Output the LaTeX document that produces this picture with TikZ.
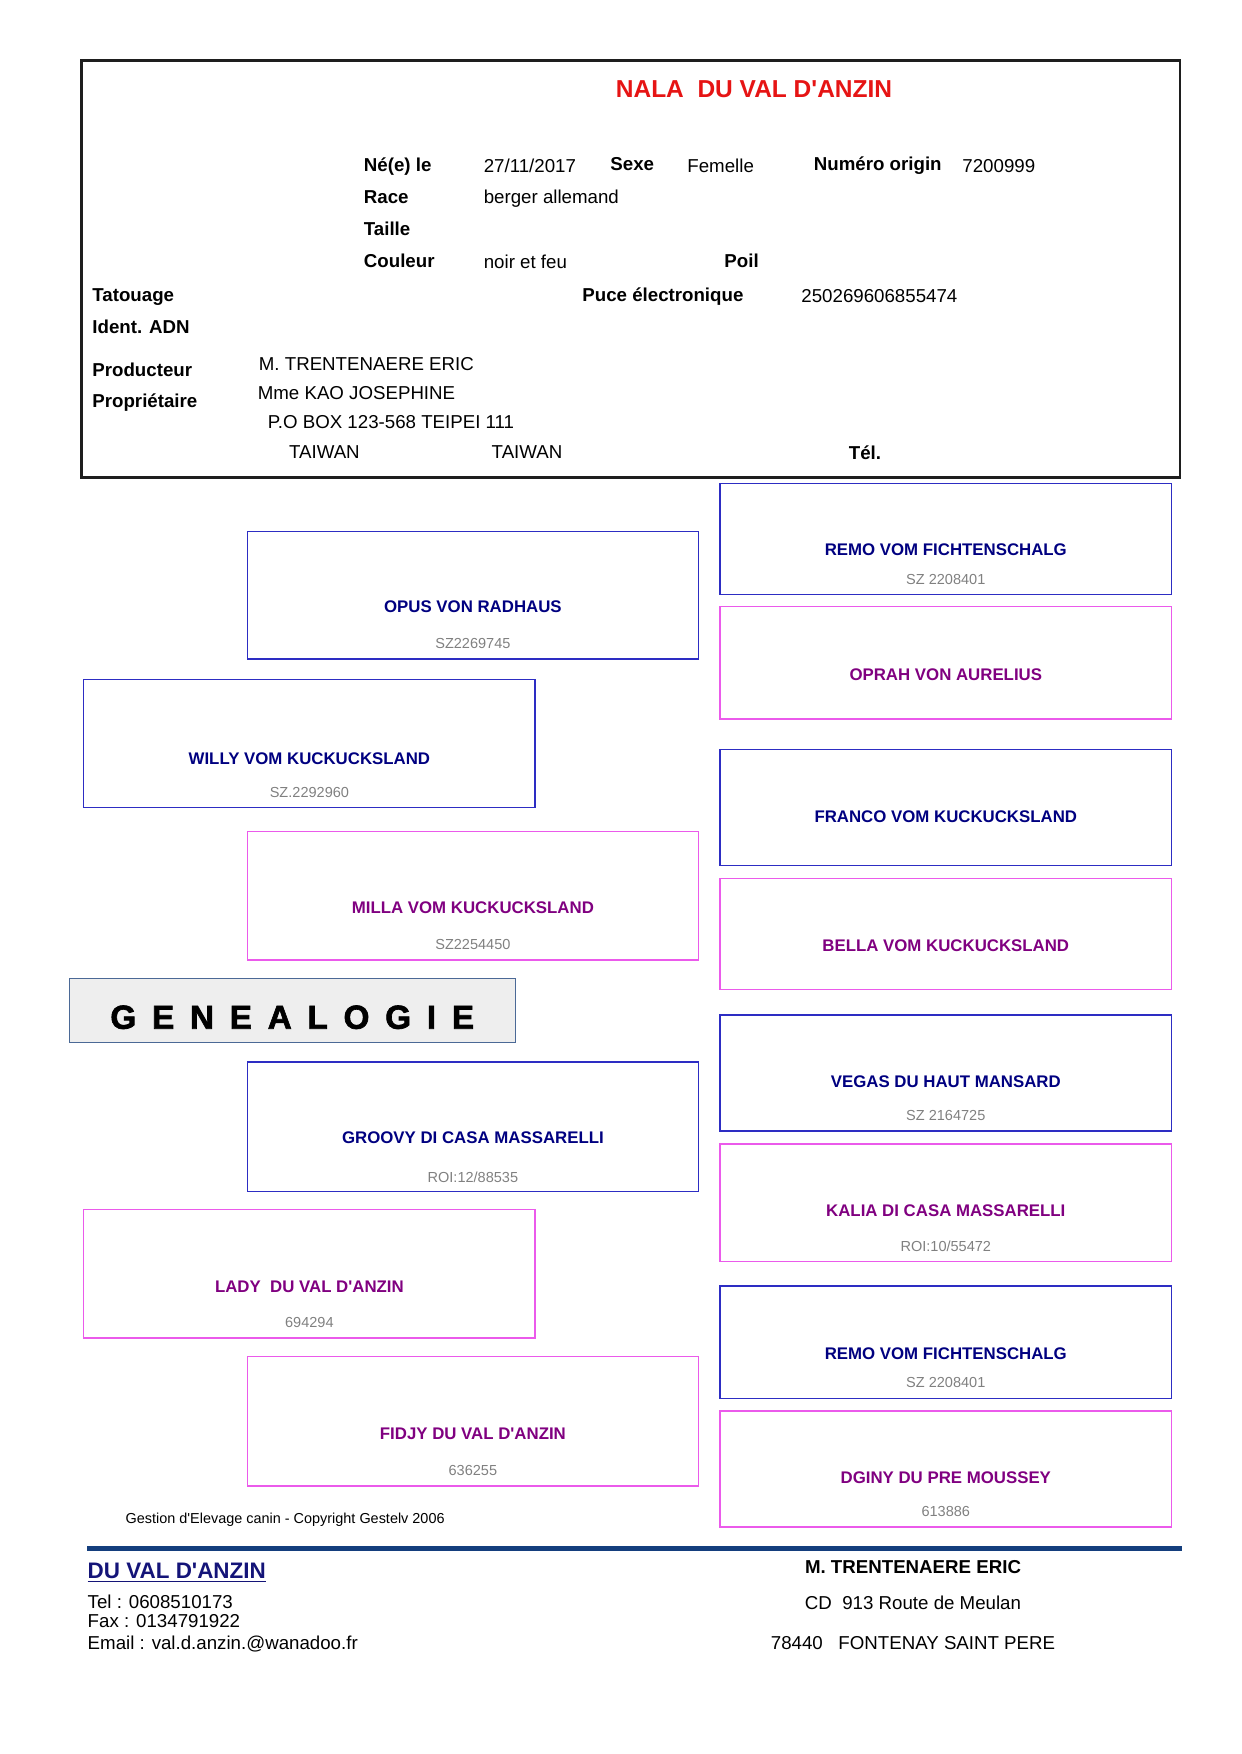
\documentclass[tikz,border=0pt]{standalone}
\usepackage{fontspec}
\setmainfont{Liberation Sans}
\newfontfamily\blackfont{Liberation Sans}[FakeBold=2]
\usetikzlibrary{fit}
\definecolor{maleline}{RGB}{45,45,195}
\definecolor{femline}{RGB}{235,90,235}
\definecolor{navyname}{RGB}{0,0,128}
\definecolor{purplename}{RGB}{128,0,128}
\definecolor{reggray}{RGB}{128,128,128}
\definecolor{titlered}{RGB}{230,20,20}
\definecolor{frameblack}{RGB}{30,30,30}
\definecolor{genline}{RGB}{75,105,150}
\definecolor{genfill}{RGB}{238,238,238}
\definecolor{footblue}{RGB}{20,62,125}
\definecolor{footnavy}{RGB}{20,20,120}
\newcommand\gsp{\hspace{7.6pt}}
\tikzset{
  pbox/.style={draw, line width=0.7pt, inner sep=0pt},
  malebox/.style={pbox, draw=maleline},
  femalebox/.style={pbox, draw=femline},
  mname/.style={anchor=base, inner sep=0pt, text=navyname, font=\bfseries\fontsize{8.1}{10}\selectfont},
  fname/.style={anchor=base, inner sep=0pt, text=purplename, font=\bfseries\fontsize{8.1}{10}\selectfont},
  reg/.style={anchor=base, inner sep=0pt, text=reggray, font=\fontsize{7}{8}\selectfont},
  lab/.style={anchor=base west, inner sep=0pt, font=\bfseries\fontsize{9}{11}\selectfont},
  val/.style={anchor=base west, inner sep=0pt, font=\fontsize{9}{11}\selectfont},
  valc/.style={anchor=base, inner sep=0pt, font=\fontsize{9}{11}\selectfont},
}
\begin{document}
\begin{tikzpicture}[x=0.16922mm, y=-0.16922mm]
\useasboundingbox (0,0) rectangle (1241,1754);

% main frame
\node[draw=frameblack, line width=1.2pt, inner sep=0pt, fit={(81.5,60.5) (1180,477.5)}] (frame) {};
\node[anchor=base, inner sep=0pt, text=titlered, font=\bfseries\fontsize{11.8}{14}\selectfont] (title) at (754,97.6) {NALA~~DU VAL D\textquotesingle ANZIN};

\node[lab] (nelab) at (363.5,171.5) {Né(e) le};
\node[val] (neval) at (483.4,172.5) {27/11/2017};
\node[lab] (sexlab) at (610,170.5) {Sexe};
\node[val] (sexval) at (687,172.5) {Femelle};
\node[lab] (numlab) at (813.5,171) {Numéro origin};
\node[val] (numval) at (962,172.5) {7200999};
\node[lab] (racelab) at (363.5,203.5) {Race};
\node[val] (raceval) at (483.4,204) {berger allemand};
\node[lab] (taillelab) at (363.5,236) {Taille};
\node[lab] (coullab) at (363.5,267.5) {Couleur};
\node[val] (coulval) at (483.4,268.5) {noir et feu};
\node[lab] (poillab) at (724,267.5) {Poil};
\node[lab] (tatlab) at (92,301.5) {Tatouage};
\node[lab] (pucelab) at (582,302) {Puce électronique};
\node[val] (puceval) at (801,303) {250269606855474};
\node[lab] (adnlab) at (92,333.3) {Ident. ADN};
\node[lab] (prodlab) at (92,376.5) {Producteur};
\node[val] (prodval) at (258.5,370.5) {M. TRENTENAERE ERIC};
\node[lab] (proplab) at (92,408) {Propriétaire};
\node[val] (propval) at (257.4,399.5) {Mme KAO JOSEPHINE};
\node[val] (addr) at (267.4,428.5) {P.O BOX 123-568 TEIPEI 111};
\node[val] (city) at (288.7,458.7) {TAIWAN};
\node[val] (country) at (491.3,458.7) {TAIWAN};
\node[lab] (tellab) at (848.5,459.8) {Tél.};

% pedigree boxes
\node[malebox, fit={(720,483.3) (1171.7,594.3)}] (remoA) {};
\node[femalebox, fit={(720,606.7) (1171.7,719)}] (oprah) {};
\node[malebox, fit={(720,749.3) (1171.7,865.7)}] (franco) {};
\node[femalebox, fit={(720,878.3) (1171.7,989.5)}] (bella) {};
\node[malebox, fit={(720,1014.8) (1171.7,1130.9)}] (vegas) {};
\node[femalebox, fit={(720,1143.9) (1171.7,1261.7)}] (kalia) {};
\node[malebox, fit={(720,1285.8) (1171.7,1398.4)}] (remoB) {};
\node[femalebox, fit={(720,1410.8) (1171.7,1526.9)}] (dginy) {};
\node[malebox, fit={(247.3,531.3) (698.5,659)}] (opus) {};
\node[malebox, fit={(83.6,679.3) (535.2,807.3)}] (willy) {};
\node[femalebox, fit={(247.3,831.7) (698.5,960)}] (milla) {};
\node[malebox, fit={(247.3,1061.8) (698.5,1191.4)}] (groovy) {};
\node[femalebox, fit={(83.6,1209.6) (535.2,1337.9)}] (lady) {};
\node[femalebox, fit={(247.3,1356.4) (698.5,1486)}] (fidjy) {};

\node[mname] (remoA-n) at (945.8,555) {REMO VOM FICHTENSCHALG};
\node[reg] (remoA-r) at (945.8,584.5) {SZ 2208401};
\node[fname] (oprah-n) at (945.8,680) {OPRAH VON AURELIUS};
\node[mname] (franco-n) at (945.8,822.7) {FRANCO VOM KUCKUCKSLAND};
\node[fname] (bella-n) at (945.8,951) {BELLA VOM KUCKUCKSLAND};
\node[mname] (vegas-n) at (945.8,1087.6) {VEGAS DU HAUT MANSARD};
\node[reg] (vegas-r) at (945.8,1120.6) {SZ 2164725};
\node[fname] (kalia-n) at (945.8,1216.7) {KALIA DI CASA MASSARELLI};
\node[reg] (kalia-r) at (945.8,1251.4) {ROI:10/55472};
\node[mname] (remoB-n) at (945.8,1359.6) {REMO VOM FICHTENSCHALG};
\node[reg] (remoB-r) at (945.8,1387.4) {SZ 2208401};
\node[fname] (dginy-n) at (945.8,1483.6) {DGINY DU PRE MOUSSEY};
\node[reg] (dginy-r) at (945.8,1516.6) {613886};
\node[mname] (opus-n) at (472.9,612.7) {OPUS VON RADHAUS};
\node[reg] (opus-r) at (472.9,648.5) {SZ2269745};
\node[mname] (willy-n) at (309.4,764.7) {WILLY VOM KUCKUCKSLAND};
\node[reg] (willy-r) at (309.4,797.5) {SZ.2292960};
\node[fname] (milla-n) at (472.9,913.7) {MILLA VOM KUCKUCKSLAND};
\node[reg] (milla-r) at (472.9,949.2) {SZ2254450};
\node[mname] (groovy-n) at (472.9,1143.9) {GROOVY DI CASA MASSARELLI};
\node[reg] (groovy-r) at (472.9,1182) {ROI:12/88535};
\node[fname] (lady-n) at (309.4,1292) {LADY~~DU VAL D\textquotesingle ANZIN};
\node[reg] (lady-r) at (309.4,1327.7) {694294};
\node[fname] (fidjy-n) at (472.9,1439.9) {FIDJY DU VAL D\textquotesingle ANZIN};
\node[reg] (fidjy-r) at (472.9,1475.9) {636255};

% GENEALOGIE banner
\node[draw=genline, fill=genfill, line width=0.6pt, inner sep=0pt, fit={(69.3,978.6) (515.4,1042.5)}] (genbox) {};
\node[anchor=base west, inner sep=0pt, font=\blackfont\bfseries\fontsize{16}{18}\selectfont] (gentext) at (110,1028.7) {G\gsp E\gsp N\gsp E\gsp A\gsp L\gsp O\gsp G\gsp I\gsp E};

% footer
\node[anchor=base west, inner sep=0pt, font=\fontsize{6.95}{8}\selectfont] (copy) at (125.3,1523.5) {Gestion d\textquotesingle Elevage canin - Copyright Gestelv 2006};
\coordinate (lineA) at (87.3,1548.7);
\coordinate (lineB) at (1181.7,1548.7);
\draw[footblue, line width=2.2pt] (lineA) -- (lineB);
\node[anchor=base west, inner sep=0pt, text=footnavy, font=\bfseries\fontsize{10.8}{12}\selectfont] (kennel) at (87.3,1578) {\underline{DU VAL D\textquotesingle ANZIN}};
\node[val] (tel) at (87.3,1608) {Tel : 0608510173};
\node[val] (fax) at (87.3,1627) {Fax : 0134791922};
\node[val] (mail) at (87.3,1649.4) {Email : val.d.anzin.@wanadoo.fr};
\node[anchor=base, inner sep=0pt, font=\bfseries\fontsize{9}{11}\selectfont] (owner) at (913,1573.3) {M. TRENTENAERE ERIC};
\node[valc] (street) at (913,1609) {CD~~913 Route de Meulan};
\node[valc] (town) at (913,1649.4) {78440~~~FONTENAY SAINT PERE};
\end{tikzpicture}
\end{document}
